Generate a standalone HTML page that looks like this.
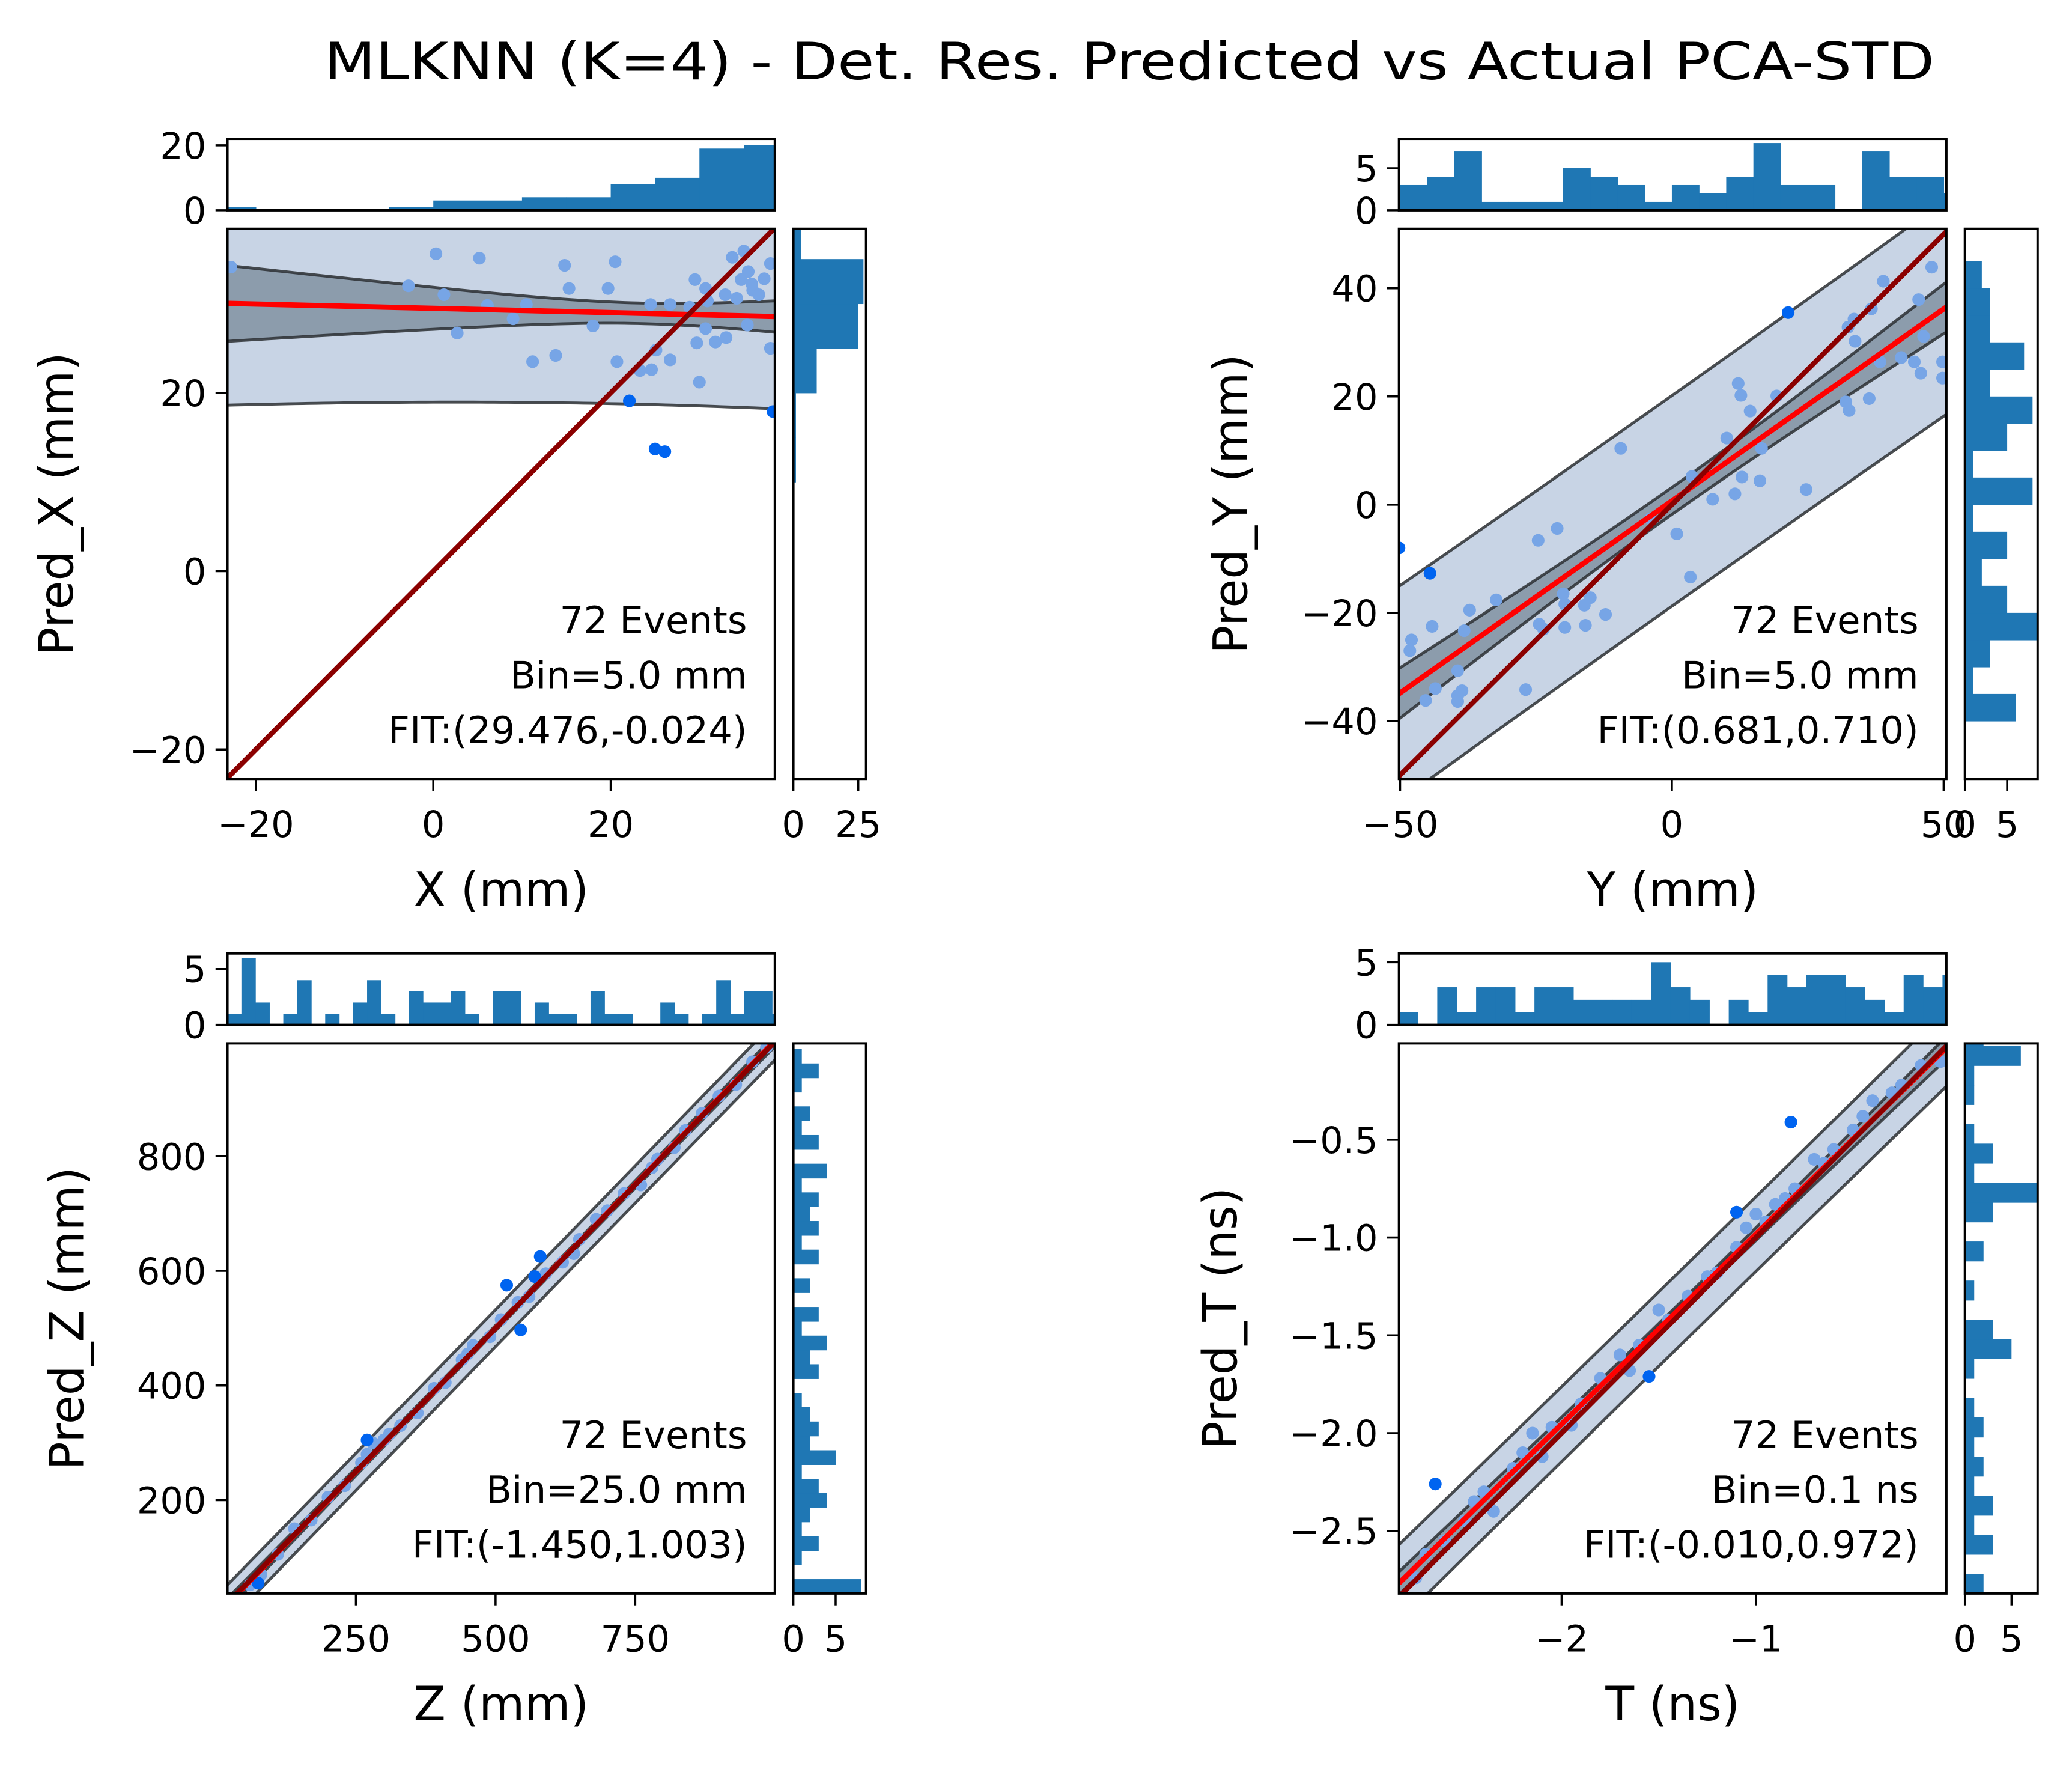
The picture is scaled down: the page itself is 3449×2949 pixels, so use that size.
<!DOCTYPE html>
<html><head><meta charset="utf-8"><style>
html,body{margin:0;padding:0;background:#fff;}
svg{display:block;}
text{font-family:"DejaVu Sans","Liberation Sans",sans-serif;fill:#000;}
</style></head><body>
<svg id="chart" width="3449" height="2949" viewBox="0 0 1567 1340" preserveAspectRatio="none" xmlns="http://www.w3.org/2000/svg">
<text x="854" y="60" font-size="39" text-anchor="middle" textLength="1218" lengthAdjust="spacingAndGlyphs">MLKNN (K=4) - Det. Res. Predicted vs Actual PCA-STD</text>
</svg>
<script>
// ---------- Panel X data ----------
const pxLight=[[0.3,35.6],[5.2,35.1],[14.8,34.3],[20.5,34.7],[15.3,31.7],[19.7,31.7],[-2.8,32],[1.2,31],[6.1,29.8],[10.5,29.9],[9,28.3],[2.7,26.7],[18,27.5],[11.2,23.5],[13.8,24.2],[20.7,23.5],[23.3,22.5],[24.6,22.6],[25.1,24.8],[26.7,23.7],[30,21.2],[29.7,25.6],[31.8,25.7],[33,26.2],[30.7,27.2],[35.4,27.6],[38,25],[29.5,32.7],[30.7,31.7],[33.7,35.2],[35,35.9],[35.5,33.6],[37.3,32.8],[38,34.5],[32.9,31],[34.2,30.6],[36,31.5],[36.7,31],[24.5,29.9],[26.7,29.9],[30.9,30.3],[28.9,29.6],[34.7,32.7],[35.9,32.2],[-22.8,34.1]];
const pxDark=[[22.1,19.1],[25,13.7],[26.1,13.4],[38.3,17.9]];
const pxTopCounts=[1,0,0,0,1,3,3,4,4,8,10,19,20];
const pxRightCounts=[1,1,9,25,27,3];
const pxFit=[29.476,-0.024];
// ---------- Panel Y data ----------
const pyLight=[[-9.4,10.4],[-24.6,-6.6],[-21.1,-4.4],[0.9,-5.4],[3.4,-13.4],[10.1,12.3],[12.2,22.4],[12.7,20.2],[14.4,17.3],[19.3,20.1],[16.2,4.4],[11.6,2],[7.5,1],[3.7,5.2],[12.9,5.1],[24.7,2.8],[32.6,17.4],[36.3,19.6],[32.4,32.8],[33.5,34.3],[33.7,30.2],[36.7,36.2],[38.9,41.3],[45.4,37.9],[47.8,43.9],[45.8,24.3],[44.6,26.4],[49.8,26.4],[49.8,23.4],[46.3,31.1],[38.3,26.4],[42.2,27.2],[16.5,10.4],[-3.9,-2.6],[-44.1,-22.5],[-37.2,-19.5],[-32.3,-17.6],[-47.9,-25],[-48.2,-27],[-39.4,-30.7],[-43.5,-34],[-45.3,-36.2],[-39.4,-35.3],[-38.6,-34.4],[-39.4,-36.4],[-26.9,-34.2],[-24.4,-22.1],[-23.6,-23],[-19.7,-22.7],[-15.9,-22.3],[-16.1,-18.6],[-15,-17.2],[-12.2,-20.3],[-19.7,-18.4],[-20,-16.5],[-38.2,-23.3],[32,19]];
const pyDark=[[-44.5,-12.7],[21.4,35.5],[-50.2,-8]];
const pyTopCounts=[3,4,7,1,1,1,5,4,3,1,3,2,4,8,3,3,0,7,4,4,2];
const pyRightCounts=[6,1,3,9,5,2,5,1,8,1,5,8,3,7,3,3,2];
// ---------- Panel Z data ----------
const pzLight=[[60,52],[80,70],[110,105],[140,150],[170,165],[200,205],[230,225],[260,265],[280,300],[300,305],[330,330],[360,352],[390,395],[410,405],[440,445],[460,470],[490,485],[510,515],[540,545],[560,555],[590,595],[620,615],[650,655],[680,690],[700,705],[730,735],[760,750],[790,795],[820,815],[840,845],[870,875],[900,905],[930,925],[960,965],[985,990],[310,315],[270,280],[450,455],[640,630],[780,780]];
const pzDark=[[75,55],[520,575],[545,497],[580,625],[270,305],[570,590]];
const pzTopCounts=[1,6,2,0,1,4,0,1,0,2,4,1,0,3,2,2,3,1,0,3,3,0,2,1,1,0,3,1,1,0,0,2,1,0,1,4,1,3,3,1,1,3];
const pzRightCounts=[8,0,1,3,1,2,4,3,1,5,2,3,2,1,0,3,2,4,1,3,0,2,0,3,1,3,2,3,1,4,0,3,1,2,0,1,3,1];
// ---------- Panel T data ----------
const ptLight=[[-2.75,-2.74],[-2.7,-2.62],[-2.6,-2.55],[-2.5,-2.45],[-2.45,-2.35],[-2.4,-2.3],[-2.35,-2.4],[-2.25,-2.18],[-2.2,-2.1],[-2.15,-2.0],[-2.1,-2.12],[-2.05,-1.97],[-1.95,-1.96],[-1.9,-1.85],[-1.8,-1.72],[-1.7,-1.6],[-1.65,-1.68],[-1.6,-1.55],[-1.5,-1.37],[-1.45,-1.42],[-1.35,-1.3],[-1.25,-1.2],[-1.2,-1.18],[-1.1,-1.05],[-1.05,-0.95],[-1.0,-0.88],[-0.95,-0.92],[-0.9,-0.83],[-0.85,-0.8],[-0.8,-0.75],[-0.7,-0.6],[-0.65,-0.62],[-0.6,-0.55],[-0.5,-0.45],[-0.45,-0.38],[-0.4,-0.3],[-0.3,-0.26],[-0.25,-0.22],[-0.15,-0.12],[-0.05,-0.1]];
const ptDark=[[-0.82,-0.41],[-2.65,-2.26],[-1.55,-1.71],[-1.1,-0.87]];
const ptTopCounts=[1,0,3,1,3,3,1,3,3,2,2,2,2,5,3,2,0,2,1,4,3,4,4,3,2,1,4,3,4];
const ptRightCounts=[2,0,3,1,3,1,2,1,2,1,0,1,5,3,0,1,0,2,0,3,9,1,3,1,0,1,1,6,2];

const NS='http://www.w3.org/2000/svg';
const svg=document.getElementById('chart');
function mk(tag,attrs,parent){const e=document.createElementNS(NS,tag);for(const k in attrs)e.setAttribute(k,attrs[k]);(parent||svg).appendChild(e);return e;}
function fmt(v,d){const s=(d!==undefined)?Math.abs(v).toFixed(d):Math.abs(v).toString();return (v<0?'\u2212':'')+s;}
let clipId=0;
const TF=27.5, TL=9;

function panel(c){
  const g=mk('g',{});
  
  
  const L=c.box[0],T=c.box[1],R=c.box[2],B=c.box[3];
  const sx=v=>L+(v-c.xr[0])/(c.xr[1]-c.xr[0])*(R-L);
  const sy=v=>B-(v-c.yr[0])/(c.yr[1]-c.yr[0])*(B-T);
  const cid='clip'+(clipId++);
  const cp=mk('clipPath',{id:cid},g);mk('rect',{x:L,y:T,width:R-L,height:B-T},cp);
  const inner=mk('g',{'clip-path':'url(#'+cid+')'},g);
  const all=c.light.concat(c.dark);const n=all.length;
  const mx=all.reduce((a,p)=>a+p[0],0)/n;
  const Sxx=all.reduce((a,p)=>a+(p[0]-mx)**2,0);
  const f=x=>c.fit[0]+c.fit[1]*x;
  const s=Math.sqrt(all.reduce((a,p)=>a+(p[1]-f(p[0]))**2,0)/(n-2))*c.sfac;
  const N=80,xs=[];for(let i=0;i<=N;i++)xs.push(c.xr[0]+(c.xr[1]-c.xr[0])*i/N);
  const pw=x=>1.994*s*Math.sqrt(1+1/n+(x-mx)**2/Sxx);
  const cw=x=>1.994*s*c.cfac*Math.sqrt(1/n+(x-mx)**2/Sxx);
  function band(w,fill,nm){
    let d='M'+xs.map(x=>sx(x)+','+sy(f(x)+w(x))).join('L')+'L'+xs.slice().reverse().map(x=>sx(x)+','+sy(f(x)-w(x))).join('L')+'Z';
    const p=mk('path',{d:d,fill:fill,stroke:'none'},inner);
    
    
    [1,-1].forEach(sg=>{
      const l=mk('path',{d:'M'+xs.map(x=>sx(x)+','+sy(f(x)+sg*w(x))).join('L'),fill:'none',stroke:'#2b2f33',"stroke-opacity":0.85,'stroke-width':2.2},inner);
      
      
    });
  }
  band(pw,'#c8d4e5','prediction-band');
  band(cw,'#8c9cac','confidence-band');
  c.light.forEach(p=>{const e=mk('circle',{cx:sx(p[0]),cy:sy(p[1]),r:4.8,fill:'#77a5e6'},inner);
    
    });
  c.dark.forEach(p=>{const e=mk('circle',{cx:sx(p[0]),cy:sy(p[1]),r:4.8,fill:'#0064f0'},inner);
    
    });
  const fl=mk('line',{x1:sx(c.xr[0]),y1:sy(f(c.xr[0])),x2:sx(c.xr[1]),y2:sy(f(c.xr[1])),stroke:'#ff0000','stroke-width':4},inner);
  
  
  const lo=Math.min(c.xr[0],c.yr[0]),hi=Math.max(c.xr[1],c.yr[1]);
  const il=mk('line',{x1:sx(lo),y1:sy(lo),x2:sx(hi),y2:sy(hi),stroke:'#8b0000','stroke-width':3.8},inner);
  
  
  const fr=mk('rect',{x:L,y:T,width:R-L,height:B-T,fill:'none',stroke:'#000','stroke-width':1.8},g);
  
  
  c.xt.forEach(v=>{const X=sx(v);mk('line',{x1:X,y1:B,x2:X,y2:B+TL,stroke:'#000','stroke-width':1.6},g);
    const t=mk('text',{x:X,y:B+44,'font-size':TF,'text-anchor':'middle'},g);t.textContent=fmt(v);
    
    });
  c.yt.forEach(v=>{const Y=sy(v);mk('line',{x1:L-TL,y1:Y,x2:L,y2:Y,stroke:'#000','stroke-width':1.6},g);
    const t=mk('text',{x:L-16,y:Y+10,'font-size':TF,'text-anchor':'end'},g);t.textContent=fmt(v,c.ydec);
    
    });
  const xl=mk('text',{x:(L+R)/2,y:B+96,'font-size':35.5,'text-anchor':'middle'},g);xl.textContent=c.xlabel;
  
  
  const yx=c.ylx,yy=(T+B)/2;
  const yl=mk('text',{x:yx,y:yy,'font-size':35.5,'text-anchor':'middle',transform:'rotate(-90 '+yx+' '+yy+')'},g);yl.textContent=c.ylabel;
  
  
  c.ann.forEach((s2,i)=>{const t=mk('text',{x:R-21,y:B-110+i*41.5,'font-size':28.5,'text-anchor':'end'},g);t.textContent=s2;
    
    });
  const HT=T-68,HB=T-14;
  const hy=v=>HB-v/c.topMax*(HB-HT);
  const tcp='clip'+(clipId++);const tc=mk('clipPath',{id:tcp},g);mk('rect',{x:L,y:HT,width:R-L,height:HB-HT},tc);
  const tg=mk('g',{'clip-path':'url(#'+tcp+')'},g);
  c.topCounts.forEach((v,i)=>{const a=c.topStart+i*c.bin,b=a+c.bin;
    const r=mk('rect',{x:sx(a),y:hy(v),width:sx(b)-sx(a)+0.3,height:HB-hy(v),fill:'#1f77b4'},tg);
    
    });
  const tf=mk('rect',{x:L,y:HT,width:R-L,height:HB-HT,fill:'none',stroke:'#000','stroke-width':1.8},g);
  
  
  c.topTicks.forEach(v=>{const Y=hy(v);mk('line',{x1:L-TL,y1:Y,x2:L,y2:Y,stroke:'#000','stroke-width':1.6},g);
    const t=mk('text',{x:L-16,y:Y+10,'font-size':TF,'text-anchor':'end'},g);t.textContent=fmt(v);
    
    });
  const RL=R+14,RR=R+69;
  const hx=v=>RL+v/c.rightMax*(RR-RL);
  const rcp='clip'+(clipId++);const rc=mk('clipPath',{id:rcp},g);mk('rect',{x:RL,y:T,width:RR-RL,height:B-T},rc);
  const rg=mk('g',{'clip-path':'url(#'+rcp+')'},g);
  c.rightCounts.forEach((v,i)=>{const a=c.rightStart+i*c.bin,b=a+c.bin;
    const r=mk('rect',{x:RL,y:sy(b),width:hx(v)-RL,height:sy(a)-sy(b)+0.3,fill:'#1f77b4'},rg);
    
    });
  const rf=mk('rect',{x:RL,y:T,width:RR-RL,height:B-T,fill:'none',stroke:'#000','stroke-width':1.8},g);
  
  
  c.rightTicks.forEach(v=>{const X=hx(v);mk('line',{x1:X,y1:B,x2:X,y2:B+TL,stroke:'#000','stroke-width':1.6},g);
    const t=mk('text',{x:X,y:B+44,'font-size':TF,'text-anchor':'middle'},g);t.textContent=fmt(v);
    
    });
}

panel({name:'panel-x',box:[172,173,586,589],xr:[-23.2,38.5],yr:[-23.3,38.4],xt:[-20,0,20],yt:[-20,0,20],
  light:pxLight,dark:pxDark,fit:pxFit,sfac:0.92,cfac:0.8,xlabel:'X (mm)',ylabel:'Pred_X (mm)',ylx:55,
  ann:['72 Events','Bin=5.0 mm','FIT:(29.476,-0.024)'],
  topCounts:pxTopCounts,topStart:-25,bin:5,topMax:22,topTicks:[0,20],
  rightCounts:pxRightCounts,rightStart:10,rightMax:28,rightTicks:[0,25]});
panel({name:'panel-y',box:[1058,173,1472,589],xr:[-50.2,50.5],yr:[-50.7,51],xt:[-50,0,50],yt:[-40,-20,0,20,40],
  light:pyLight,dark:pyDark,fit:[0.681,0.710],sfac:1.0,cfac:1.0,xlabel:'Y (mm)',ylabel:'Pred_Y (mm)',ylx:943,
  ann:['72 Events','Bin=5.0 mm','FIT:(0.681,0.710)'],
  topCounts:pyTopCounts,topStart:-50,bin:5,topMax:8.5,topTicks:[0,5],
  rightCounts:pyRightCounts,rightStart:-40,rightMax:8.6,rightTicks:[0,5]});
panel({name:'panel-z',box:[172,789,586,1205],xr:[20,1000],yr:[37,997],xt:[250,500,750],yt:[200,400,600,800],
  light:pzLight,dark:pzDark,fit:[-1.45,1.003],sfac:1.0,cfac:1.0,xlabel:'Z (mm)',ylabel:'Pred_Z (mm)',ylx:63,
  ann:['72 Events','Bin=25.0 mm','FIT:(-1.450,1.003)'],
  topCounts:pzTopCounts,topStart:20,bin:25,topMax:6.4,topTicks:[0,5],
  rightCounts:pzRightCounts,rightStart:37,rightMax:8.6,rightTicks:[0,5]});
panel({name:'panel-t',box:[1058,789,1472,1205],xr:[-2.837,-0.02],yr:[-2.82,-0.007],xt:[-2,-1],yt:[-2.5,-2,-1.5,-1,-0.5],ydec:1,
  light:ptLight,dark:ptDark,fit:[-0.010,0.972],sfac:0.9,cfac:1.0,xlabel:'T (ns)',ylabel:'Pred_T (ns)',ylx:935,
  ann:['72 Events','Bin=0.1 ns','FIT:(-0.010,0.972)'],
  topCounts:ptTopCounts,topStart:-2.84,bin:0.1,topMax:5.7,topTicks:[0,5],
  rightCounts:ptRightCounts,rightStart:-2.82,rightMax:7.8,rightTicks:[0,5]});
</script>
</body></html>
